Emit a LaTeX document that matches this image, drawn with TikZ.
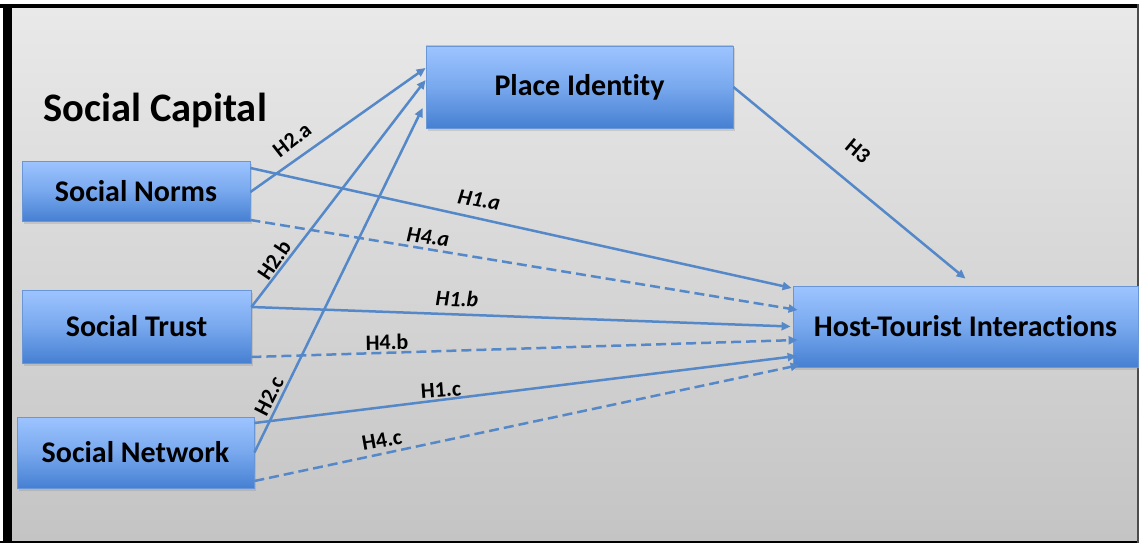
\documentclass[tikz,border=0pt]{standalone}
\usepackage{fontspec}
\setmainfont{Carlito}[Ligatures=NoCommon]
\usetikzlibrary{arrows.meta,shadows,calc}
\definecolor{linecol}{RGB}{84,136,200}
\definecolor{boxtop}{RGB}{157,196,255}
\definecolor{boxmid}{RGB}{120,168,238}
\definecolor{boxbot}{RGB}{70,128,210}
\definecolor{boxedge}{RGB}{105,150,215}
\definecolor{bgtop}{RGB}{233,233,233}
\definecolor{bgbot}{RGB}{196,196,196}
\tikzset{
  varbox/.style={draw=boxedge, line width=0.8pt, top color=boxtop, bottom color=boxbot, middle color=boxmid,
    drop shadow={opacity=0.25, shadow xshift=2pt, shadow yshift=-2.5pt},
    inner sep=0pt, font=\bfseries\fontsize{30}{36}\selectfont, text=black},
  link/.style={draw=linecol, line width=2.5pt, -{Triangle[length=9pt,width=8pt]}},
  dlink/.style={link, dash pattern=on 10pt off 5pt},
  hlabel/.style={font=\bfseries\fontsize{22}{26}\selectfont, inner sep=0pt, text=black},
  ilabel/.style={hlabel, font=\bfseries\itshape\fontsize{22}{26}\selectfont},
}
\begin{document}
\begin{tikzpicture}[x=1pt,y=-1pt]
\useasboundingbox (0,0) rectangle (1139,543);
% background and frame
\fill[white] (0,0) rectangle (1139,543);
\shade[top color=bgtop, bottom color=bgbot] (12,8) rectangle (1137,541);
\fill[black] (0,4) rectangle (1139,8);
\fill[black] (3,4) rectangle (12,543);
\fill[black] (0,541) rectangle (1139,543);
\fill[black!70] (1137,4) rectangle (1139,543);
% title
\node[font=\bfseries\fontsize{40.5}{46}\selectfont, inner sep=0pt] (title) at (155,110) {Social Capital};
% boxes
\node[varbox, minimum width=228pt, minimum height=60pt] (sn) at (136,191) {Social Norms};
\node[varbox, minimum width=229pt, minimum height=73pt] (st) at (136.5,326.5) {Social Trust};
\node[varbox, minimum width=237pt, minimum height=71pt] (snet) at (135.5,452.5) {Social Network};
\node[varbox, minimum width=307pt, minimum height=82pt] (pi) at (579.5,87) {Place Identity};
\node[varbox, minimum width=345pt, minimum height=81pt] (hti) at (965.5,326.5) {Host-Tourist Interactions};
% H2 arrows to Place Identity
\draw[link] ([yshift=-1pt]sn.east) -- ([yshift=19pt]pi.west);
\draw[link] ([yshift=19.5pt]st.east) -- ([yshift=7pt]pi.west);
\draw[link] (snet.east) -- ([xshift=-3pt,yshift=-21pt]pi.west);
% H1 and H4 arrows to Host-Tourist Interactions
\draw[link] ([yshift=23pt]sn.east) -- ([xshift=-1pt,yshift=38.5pt]hti.west);
\draw[dlink] ([yshift=-29pt]sn.east) -- ([xshift=5pt,yshift=16.5pt]hti.west);
\draw[link] ([yshift=19.5pt]st.east) -- ([xshift=-2pt]hti.west);
\draw[dlink] ([yshift=-30.5pt]st.east) -- ([xshift=5pt,yshift=-13.5pt]hti.west);
\draw[link] ([yshift=29.5pt]snet.east) -- ([xshift=4pt,yshift=-29.5pt]hti.west);
\draw[dlink] ([yshift=-28.5pt]snet.east) -- ([xshift=7pt,yshift=-38.5pt]hti.west);
% H3
\draw[link] (pi.east) -- ([yshift=7pt]hti.north);
% labels
\node[hlabel, rotate=38] (l2a) at (292,140) {H2.a};
\node[hlabel, rotate=56] (l2b) at (274,260) {H2.b};
\node[hlabel, rotate=63] (l2c) at (269,396) {H2.c};
\node[ilabel, rotate=-10] (l1a) at (479,200) {H1.a};
\node[ilabel, rotate=-6] (l4a) at (428,237) {H4.a};
\node[ilabel, rotate=-2] (l1b) at (457,299) {H1.b};
\node[hlabel, rotate=1] (l4b) at (387,342) {H4.b};
\node[hlabel, rotate=4] (l1c) at (441,390) {H1.c};
\node[hlabel, rotate=10] (l4c) at (382,440) {H4.c};
\node[hlabel, rotate=-40] (l3) at (858,151) {H3};
\end{tikzpicture}
\end{document}
